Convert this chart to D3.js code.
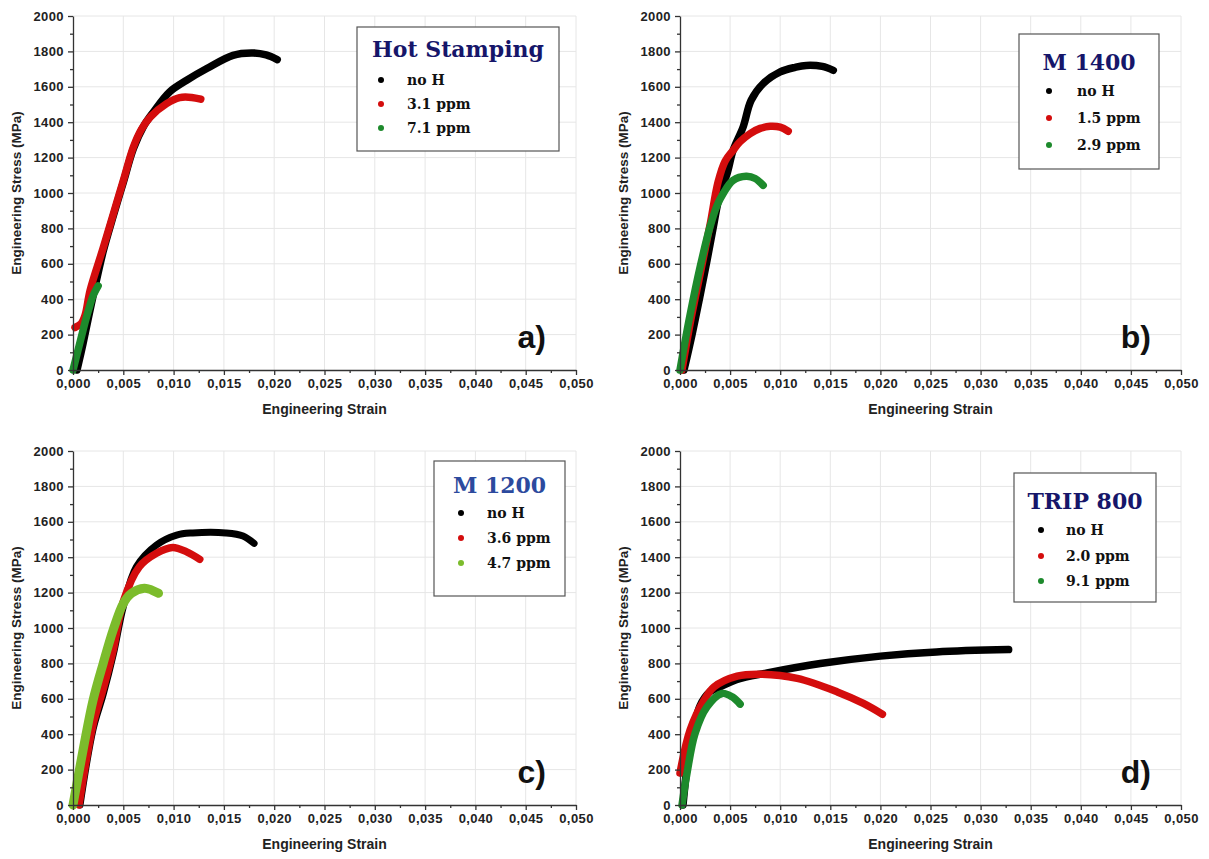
<!DOCTYPE html>
<html>
<head>
<meta charset="utf-8">
<script src="https://cdn.jsdelivr.net/npm/d3@7"></script>
<style>
  body { margin: 0; background: #fff; }
  svg { display: block; }
</style>
</head>
<body>
<script>
// ---- data: [strain, stress MPa] ----
const hsNoH = [[0.0004,0],[0.001,150],[0.002,420],[0.003,670],[0.004,870],[0.005,1060],[0.006,1250],[0.007,1375],[0.008,1458],[0.0096,1571],[0.0113,1637],[0.0133,1703],[0.0159,1778],[0.0179,1791],[0.0192,1780],[0.0203,1754]]
const hs31 = [[0.0002,240],[0.0008,262],[0.0012,310],[0.0017,450],[0.003,690],[0.004,880],[0.005,1070],[0.006,1260],[0.0068,1360],[0.0077,1430],[0.0093,1505],[0.0106,1539],[0.0118,1540],[0.0127,1530]]
const hs71 = [[0,0],[0.0004,90],[0.0008,180],[0.0012,270],[0.0016,350],[0.002,420],[0.0025,475]]

const m14NoH = [[0.0004,0],[0.0012,200],[0.002,420],[0.0027,620],[0.0033,800],[0.004,1000],[0.0047,1110],[0.0053,1241],[0.0063,1373],[0.0071,1524],[0.0083,1618],[0.01,1684],[0.0115,1710],[0.0126,1721],[0.0142,1715],[0.0153,1693]]
const m1415 = [[0.0002,0],[0.001,260],[0.002,540],[0.003,820],[0.0038,1062],[0.0045,1180],[0.0053,1241],[0.006,1290],[0.007,1336],[0.008,1365],[0.009,1377],[0.01,1372],[0.0108,1349]]
const m1429 = [[0,0],[0.0005,160],[0.001,310],[0.002,580],[0.003,810],[0.0037,930],[0.0043,996],[0.0053,1071],[0.0066,1094],[0.0075,1082],[0.0083,1043]]

const m12NoH = [[0.0007,0],[0.002,430],[0.003,625],[0.004,850],[0.005,1120],[0.0063,1346],[0.0083,1469],[0.0103,1525],[0.0119,1537],[0.0152,1537],[0.0169,1520],[0.018,1478]]
const m1236 = [[0.0006,0],[0.002,455],[0.003,655],[0.004,875],[0.005,1150],[0.0066,1346],[0.0083,1422],[0.0099,1455],[0.0113,1430],[0.0126,1388]]
const m1247 = [[0,0],[0.001,310],[0.002,593],[0.003,800],[0.004,990],[0.005,1139],[0.0058,1196],[0.0071,1225],[0.0078,1215],[0.0085,1196]]

const tripNoH = [[0.0003,0],[0.001,330],[0.002,560],[0.003,640],[0.004,668],[0.0057,710],[0.0087,746],[0.014,799],[0.02,841],[0.0256,865],[0.0328,878]]
const trip20 = [[0,180],[0.001,423],[0.0024,592],[0.0034,667],[0.0057,728],[0.008,739],[0.0117,715],[0.0157,639],[0.0183,574],[0.0202,513]]
const trip91 = [[0.0002,0],[0.0007,180],[0.0015,404],[0.0027,555],[0.0042,630],[0.0052,611],[0.006,570]]

// legend titles and entries
const titles = ['Hot Stamping', 'M 1400', 'M 1200', 'TRIP 800']
const seriesNames = [
    ['no H', '3.1 ppm', '7.1 ppm'],
    ['no H', '1.5 ppm', '2.9 ppm'],
    ['no H', '3.6 ppm', '4.7 ppm'],
    ['no H', '2.0 ppm', '9.1 ppm']
]
const panelLetters = ['a)', 'b)', 'c)', 'd)']

// axis ticks
const xTicks = [0, 0.005, 0.010, 0.015, 0.020, 0.025, 0.030, 0.035, 0.040, 0.045, 0.050]
const yTicks = [0, 200, 400, 600, 800, 1000, 1200, 1400, 1600, 1800, 2000]

// ---- layout / style ----
const green = '#1d8a2c'
const panels = [
    {series: [hsNoH, hs31, hs71], colors: ['#000', '#d40d0d', green], widths: [7.5, 7.5, 7.5], titleColor: '#16166a',
     left: 73, right: 576, top: 16, bottom: 370,
     box: {x: 357, y: 27, w: 202, h: 124, titleY: 57, dotX: 381, textX: 407, rows: [80, 104, 128]}},
    {series: [m14NoH, m1415, m1429], colors: ['#000', '#d40d0d', green], widths: [7.5, 7.5, 7.5], titleColor: '#16166a',
     left: 680, right: 1181, top: 16, bottom: 370,
     box: {x: 1019, y: 34, w: 140, h: 135, titleY: 70, dotX: 1049, textX: 1077, rows: [91, 118, 145]}},
    {series: [m12NoH, m1236, m1247], colors: ['#000', '#d40d0d', '#7cbc2c'], widths: [7, 7.5, 9], titleColor: '#2c4a9e',
     left: 73, right: 576, top: 451, bottom: 805,
     box: {x: 434, y: 461, w: 131, h: 135, titleY: 493, dotX: 461, textX: 487, rows: [513, 538, 563]}},
    {series: [tripNoH, trip20, trip91], colors: ['#000', '#d40d0d', green], widths: [7.5, 7.5, 7.5], titleColor: '#16166a',
     left: 680, right: 1181, top: 451, bottom: 805,
     box: {x: 1014, y: 473, w: 142, h: 129, titleY: 509, dotX: 1041, textX: 1066, rows: [530, 556, 581]}}
]

const svg = d3.select('body').append('svg')
    .attr('width', 1209)
    .attr('height', 859)

const sansFont = "'Liberation Sans', Arial, sans-serif"
const serifFont = "'DejaVu Serif', serif"
const fmtStrain = d => d3.format('.3f')(d).replace('.', ',')

panels.forEach((p, i) => drawPanel(p, i))

function drawPanel(p, i) {
    let g = svg.append('g')
    let xScale = d3.scaleLinear().domain([0, 0.05]).range([p.left, p.right])
    let yScale = d3.scaleLinear().domain([0, 2000]).range([p.bottom, p.top])

    // grid
    g.append('g').selectAll('line')
        .data(xTicks.slice(1))
        .join('line')
        .attr('x1', d => xScale(d)).attr('x2', d => xScale(d))
        .attr('y1', p.top).attr('y2', p.bottom)
        .attr('stroke', '#e6e6e6').attr('stroke-width', 1)
    g.append('g').selectAll('line')
        .data(yTicks.slice(1))
        .join('line')
        .attr('x1', p.left).attr('x2', p.right)
        .attr('y1', d => yScale(d)).attr('y2', d => yScale(d))
        .attr('stroke', '#e6e6e6').attr('stroke-width', 1)

    // curves: black, red, green drawn in that order
    let line = d3.line()
        .x(d => xScale(d[0]))
        .y(d => yScale(d[1]))
        .curve(d3.curveCatmullRom)
    g.append('g').selectAll('path')
        .data(p.series)
        .join('path')
        .attr('d', d => line(d))
        .attr('fill', 'none')
        .attr('stroke', (d, k) => p.colors[k])
        .attr('stroke-width', (d, k) => p.widths[k])
        .attr('stroke-linecap', 'round')
        .attr('stroke-linejoin', 'round')

    // axes
    let xMinor = d3.pairs(xTicks).map(([a, b]) => (a + b) / 2)
    let yMinor = d3.pairs(yTicks).map(([a, b]) => (a + b) / 2)

    let xAxis = g.append('g')
        .attr('transform', 'translate(0,' + p.bottom + ')')
        .call(d3.axisBottom(xScale).tickValues(xTicks).tickSize(5).tickSizeOuter(0).tickPadding(4).tickFormat(fmtStrain))
    g.append('g')
        .attr('transform', 'translate(0,' + p.bottom + ')')
        .call(d3.axisBottom(xScale).tickValues(xMinor).tickSize(3).tickSizeOuter(0).tickFormat(''))
        .select('.domain').remove()

    let yAxis = g.append('g')
        .attr('transform', 'translate(' + p.left + ',0)')
        .call(d3.axisLeft(yScale).tickValues(yTicks).tickSize(5).tickSizeOuter(0).tickPadding(4).tickFormat(d3.format('d')))
    g.append('g')
        .attr('transform', 'translate(' + p.left + ',0)')
        .call(d3.axisLeft(yScale).tickValues(yMinor).tickSize(3).tickSizeOuter(0).tickFormat(''))
        .select('.domain').remove()

    g.selectAll('.domain, .tick line').attr('stroke', '#333').attr('stroke-width', 1.3)
    ;[xAxis, yAxis].forEach(a => a.selectAll('text')
        .style('font-family', sansFont)
        .style('font-size', '13px')
        .style('font-weight', 'bold')
        .style('letter-spacing', '0.4px')
        .attr('fill', '#222'))

    // axis titles
    g.append('text')
        .attr('x', (p.left + p.right) / 2)
        .attr('y', p.bottom + 44)
        .attr('text-anchor', 'middle')
        .style('font', 'bold 14px ' + sansFont)
        .attr('fill', '#222')
        .text('Engineering Strain')
    let yc = (p.top + p.bottom) / 2
    g.append('text')
        .attr('transform', 'translate(' + (p.left - 52) + ',' + yc + ') rotate(-90)')
        .attr('text-anchor', 'middle')
        .style('font', 'bold 13.5px ' + sansFont)
        .attr('fill', '#222')
        .text('Engineering Stress (MPa)')

    // panel letter
    g.append('text')
        .attr('x', p.right - 30)
        .attr('y', p.bottom - 22)
        .attr('text-anchor', 'end')
        .style('font', 'bold 32px ' + sansFont)
        .attr('fill', '#111')
        .text(panelLetters[i])

    // legend
    let b = p.box
    let lg = g.append('g')
    lg.append('rect')
        .attr('x', b.x).attr('y', b.y)
        .attr('width', b.w).attr('height', b.h)
        .attr('fill', '#fff')
        .attr('stroke', '#555').attr('stroke-width', 1.2)
    lg.append('text')
        .attr('x', b.x + b.w / 2)
        .attr('y', b.titleY)
        .attr('text-anchor', 'middle')
        .style('font', 'bold 22px ' + serifFont)
        .attr('fill', p.titleColor)
        .text(titles[i])
    lg.selectAll('circle')
        .data(seriesNames[i])
        .join('circle')
        .attr('cx', b.dotX)
        .attr('cy', (d, k) => b.rows[k])
        .attr('r', 3)
        .attr('fill', (d, k) => p.colors[k])
    lg.selectAll('text.item')
        .data(seriesNames[i])
        .join('text')
        .attr('class', 'item')
        .attr('x', b.textX)
        .attr('y', (d, k) => b.rows[k] + 5)
        .style('font', 'bold 14px ' + serifFont)
        .attr('fill', '#111')
        .text(d => d)
}
</script>
</body>
</html>
